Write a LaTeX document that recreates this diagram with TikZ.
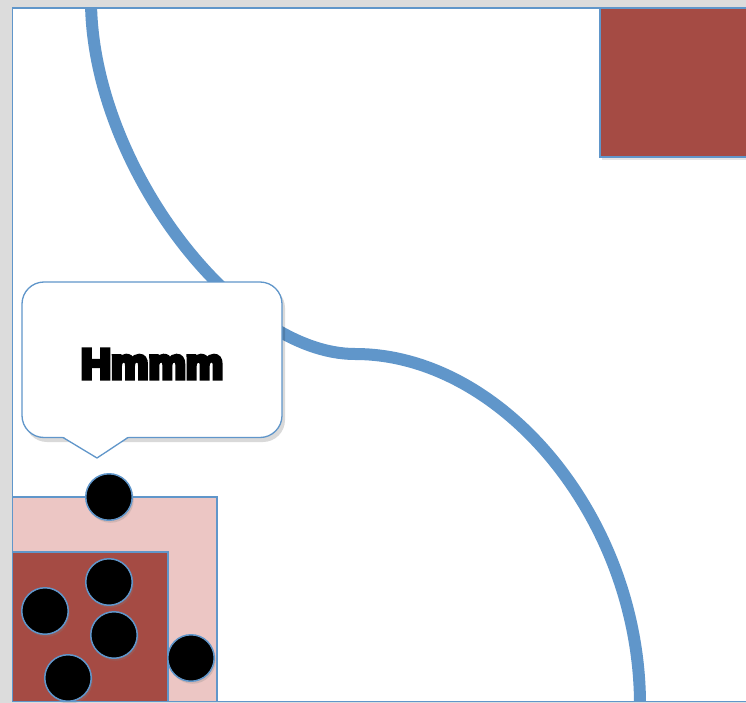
\documentclass[tikz,border=0pt]{standalone}
\usepackage{fontspec}
\newfontfamily\hmmfont[FakeBold=10]{Liberation Sans Bold}
\usetikzlibrary{shadows}
\definecolor{bgray}{RGB}{220,220,220}
\definecolor{lblue}{RGB}{96,150,202}
\definecolor{dred}{RGB}{165,75,68}
\definecolor{pinkf}{RGB}{236,198,196}
\tikzset{
  canvasbox/.style={fill=white, draw=lblue, line width=1.5pt},
  bluecurve/.style={draw=lblue, line width=12pt},
  redbox/.style={fill=dred, draw=lblue, line width=1.5pt},
  pinkbox/.style={fill=pinkf, draw=lblue, line width=1.2pt},
  dot/.style={circle, fill=black, draw=lblue, line width=1.5pt, minimum size=46.5pt, inner sep=0pt,
    drop shadow={opacity=0.25, shadow xshift=1.5pt, shadow yshift=-2.5pt}},
  bubble/.style={fill=white, draw=lblue, line width=1.3pt},
  softshadow/.style={drop shadow={opacity=0.2, shadow xshift=2pt, shadow yshift=-3pt}}
}
\begin{document}
\begin{tikzpicture}[x=1pt,y=-1pt]
\useasboundingbox (0,0) rectangle (746,703);
\clip (0,0) rectangle (746,703);
% background
\fill[bgray] (0,0) rectangle (746,703);
\path[canvasbox] (12.5,8) rectangle (760,701.5);
% curve
\begin{scope}
\clip (13.5,9) rectangle (760,700.5);
\draw[bluecurve] (91,0) .. controls (91,164) and (237,354) .. (355,354)
  .. controls (503,354) and (640,520) .. (640,705);
\end{scope}
% top right red square
\path[redbox, softshadow] (600,8) rectangle (760,157);
% callout
\path[fill=black, opacity=0.15, rounded corners=22pt] (25,286) rectangle (285,442);
\path[bubble, rounded corners=22pt] (22,282) rectangle (282,437.5);
\fill[white] (62,436) -- (97,458) -- (129,436) -- cycle;
\draw[draw=lblue, line width=1.3pt, line join=round] (63,437.5) -- (97,458) -- (128,437.5);
\node[font=\hmmfont\fontsize{42}{42}\selectfont, inner sep=0pt] (hmm) at (152,364) {Hmmm};
% bottom left boxes
\path[pinkbox] (12.5,497) rectangle (217,701.5);
\path[redbox, line width=1.2pt] (12.5,552) rectangle (168,701.5);
% circles
\node[dot] (c1) at (109,497) {};
\node[dot] (c2) at (109,582) {};
\node[dot] (c3) at (45,611) {};
\node[dot] (c4) at (114,635) {};
\node[dot] (c5) at (68,678) {};
\node[dot] (c6) at (191,658) {};
\draw[lblue, line width=1.5pt] (12.5,701.5) -- (760,701.5);
\end{tikzpicture}
\end{document}
